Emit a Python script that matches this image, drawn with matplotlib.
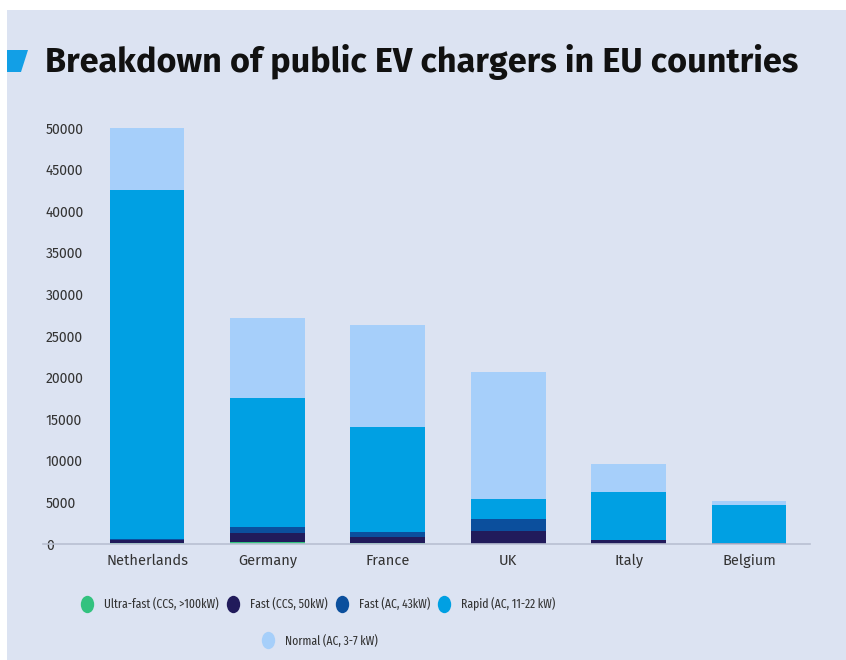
import numpy as np
import matplotlib.pyplot as plt
from matplotlib.patches import Rectangle, Polygon
from matplotlib.lines import Line2D
from matplotlib.path import Path
from matplotlib.transforms import Affine2D

plt.rcParams['font.family'] = ['Fira Sans', 'Lato']
NARROW = ['Fira Sans Extra Condensed', 'Fira Sans Condensed', 'Lato']

countries = ['Netherlands', 'Germany', 'France', 'UK', 'Italy', 'Belgium']
ultra_fast = [100, 250, 100, 0, 0, 0]
fast_ccs = [400, 1100, 750, 1550, 450, 100]
fast_ac = [150, 700, 600, 1450, 50, 50]
rapid = [41850, 15450, 12650, 2400, 5750, 4550]
normal = [7500, 9700, 12200, 15300, 3350, 500]

series = [
    ('Ultra-fast (CCS, >100kW)', ultra_fast, '#33c27f'),
    ('Fast (CCS, 50kW)', fast_ccs, '#211b5b'),
    ('Fast (AC, 43kW)', fast_ac, '#0b4f9d'),
    ('Rapid (AC, 11-22 kW)', rapid, '#00a0e3'),
    ('Normal (AC, 3-7 kW)', normal, '#a6cffa'),
]

bg = '#dce3f2'
W, H = 846, 660
fig = plt.figure(figsize=(W / 100, H / 100), dpi=100, facecolor='white')
# lavender panel with a thin white margin at top and left
fig.patches.append(Rectangle((7 / W, 0), 1, 1 - 10 / H, transform=fig.transFigure,
                             facecolor=bg, edgecolor='none', zorder=-1))
fig.patches.append(Polygon([(7 / W, 1 - 50 / H), (28 / W, 1 - 50 / H),
                            (21 / W, 1 - 72 / H), (7 / W, 1 - 72 / H)],
                           closed=True, transform=fig.transFigure,
                           facecolor='#129fe6', edgecolor='none'))
fig.text(45 / W, 1 - 62 / H, 'Breakdown of public EV chargers in EU countries',
         fontsize=24.6, fontweight='bold', color='#111111', va='center', ha='left')

ax = fig.add_axes([43 / W, 1 - 544 / H, (810 - 43) / W, (544 - 128) / H])
ax.set_facecolor('none')

x = np.arange(len(countries))
bottom = np.zeros(len(countries))
for name, vals, col in series:
    ax.bar(x, vals, bottom=bottom, width=0.62, color=col, label=name, zorder=2)
    bottom += np.array(vals)

ax.set_xlim(-0.864, 5.507)
ax.set_ylim(0, 50000)
ax.set_yticks(range(0, 50001, 5000))
ax.set_yticklabels([str(v) for v in range(0, 50001, 5000)])
ax.set_xticks(x)
ax.set_xticklabels(countries)
for lbl in ax.get_yticklabels():
    lbl.set_horizontalalignment('left')
ax.tick_params(axis='y', length=0, pad=-2, labelsize=10, labelcolor='#333333')
ax.tick_params(axis='x', length=0, pad=7, labelsize=10.5, labelcolor='#333333')
for s in ['top', 'right', 'left']:
    ax.spines[s].set_visible(False)
ax.spines['bottom'].set_color('#b9c0d2')
ax.spines['bottom'].set_linewidth(1.2)

# slightly tall dots for the legend keys
dot = Path.unit_circle().transformed(Affine2D().scale(0.77, 1.0))
handles = [Line2D([], [], marker=dot, linestyle='none', markersize=12.5,
                  markerfacecolor=c, markeredgecolor='none', label=n)
           for n, _, c in series]
leg_font = {'family': NARROW, 'size': 9.1}
fig.legend(handles=handles[:4], loc='center', bbox_to_anchor=(318 / W, 1 - 604 / H),
           ncol=4, frameon=False, prop=leg_font, handletextpad=0.82, handlelength=1.0,
           columnspacing=0.66, labelcolor='#333333')
fig.legend(handles=handles[4:], loc='center', bbox_to_anchor=(320 / W, 1 - 641 / H),
           frameon=False, prop=leg_font, handletextpad=0.82, handlelength=1.0,
           labelcolor='#333333')

fig.savefig('out.png', dpi=100, facecolor=fig.get_facecolor())
